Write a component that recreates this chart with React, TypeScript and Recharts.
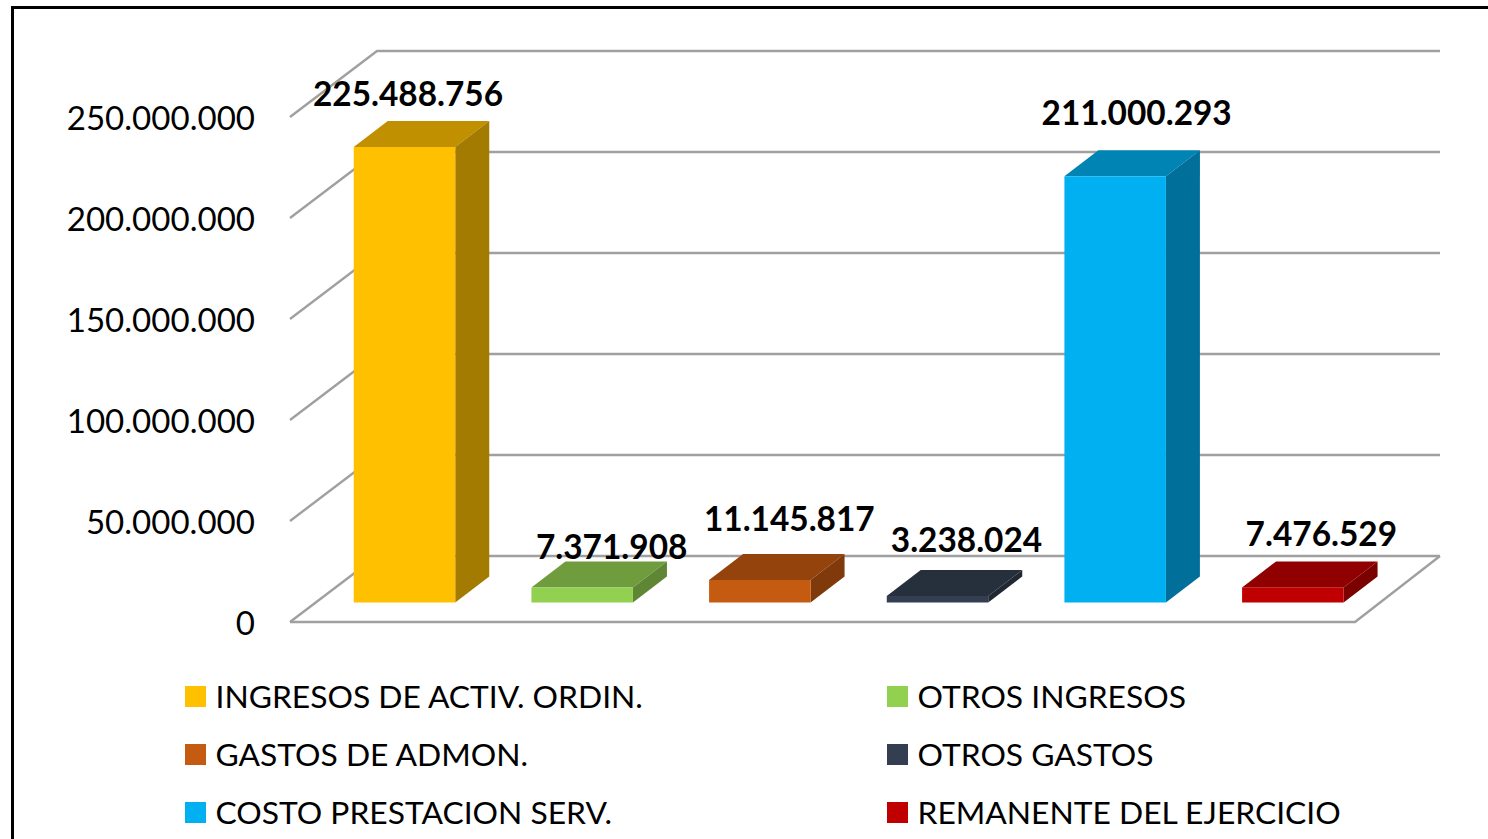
import { BarChart, Bar, XAxis, YAxis, CartesianGrid, Legend, LabelList } from "recharts";

const categories = [
  "INGRESOS DE ACTIV. ORDIN.",
  "OTROS INGRESOS",
  "GASTOS DE ADMON.",
  "OTROS GASTOS",
  "COSTO PRESTACION SERV.",
  "REMANENTE DEL EJERCICIO",
];
const values = [225488756, 7371908, 11145817, 3238024, 211000293, 7476529];
const yTicks = [0, 50000000, 100000000, 150000000, 200000000, 250000000];

const frontColors = ["#FFC000", "#92D050", "#C55A11", "#333F50", "#00B0F0", "#C00000"];
const topColors = ["#C09000", "#6F9C3D", "#95430D", "#262F3C", "#0084B4", "#900000"];
const sideColors = ["#A37B00", "#5F8634", "#7F390B", "#202833", "#00709A", "#7B0000"];

// label placement relative to the front-top corner of each bar, as in the original
const labelShiftX = [3.5, 29.5, 29.5, 29, 21.5, 28.5];
const labelShiftY = [-54.5, -41.5, -61.5, -57, -64.5, -54];

const FONT = "Lato, Carlito, sans-serif";
const GRID_COLOR = "#A0A0A0";
const DEPTH_X = 34;
const DEPTH_Y = 26;

const data = categories.map((name, i) => ({ name, [name]: values[i] }));

const fmt = (v: number) => v.toLocaleString("de-DE");

const Bar3D = (props: any) => {
  const { x, y, width, height, idx } = props;
  if (!height || height <= 0) return null;
  const r = x + width;
  const b = y + height;
  return (
    <g>
      <path
        d={`M${x},${y} L${x + DEPTH_X},${y - DEPTH_Y} L${r + DEPTH_X},${y - DEPTH_Y} L${r},${y} Z`}
        fill={topColors[idx]}
      />
      <path
        d={`M${r},${y} L${r + DEPTH_X},${y - DEPTH_Y} L${r + DEPTH_X},${b - DEPTH_Y} L${r},${b} Z`}
        fill={sideColors[idx]}
      />
      <rect x={x} y={y} width={width} height={height} fill={frontColors[idx]} />
    </g>
  );
};

const WallLine = (props: any) => {
  const y = props.y1;
  const isFloor = Math.abs(y - 602.5) < 1;
  return (
    <g key={props.key} stroke={GRID_COLOR} strokeWidth={2.4} fill="none">
      <path d={`M290,${y + 19.5} L377,${y - 46.5} L1440,${y - 46.5}`} />
      {isFloor && <path d={`M290,${y + 19.5} L1355,${y + 19.5} L1440,${y - 46.5}`} />}
    </g>
  );
};

const YTick = ({ y, payload }: any) => (
  <text
    x={255}
    y={y + 19}
    textAnchor="end"
    dominantBaseline="central"
    fontFamily={FONT}
    fontSize={33.1}
    fill="#000"
  >
    {fmt(payload.value)}
  </text>
);

const BarLabel = ({ x, y, width, value, idx }: any) => {
  if (value == null) return null;
  return (
    <text
      x={x + width / 2 + labelShiftX[idx]}
      y={y + labelShiftY[idx]}
      textAnchor="middle"
      dominantBaseline="central"
      fontFamily={FONT}
      fontWeight={700}
      fontSize={33.4}
      fill="#000"
    >
      {fmt(value)}
    </text>
  );
};

const LegendBox = ({ payload }: any) => (
  <div style={{ position: "relative", height: 0, fontFamily: FONT, fontSize: 31.8, color: "#000" }}>
    {(payload || []).map((item: any, i: number) => (
      <div
        key={item.value}
        style={{
          position: "absolute",
          left: i % 2 === 0 ? 185 : 887,
          top: 667 + Math.floor(i / 2) * 58,
          height: 58,
          display: "flex",
          alignItems: "center",
          whiteSpace: "nowrap",
        }}
      >
        <span style={{ width: 21, height: 21, background: item.color, marginRight: 9.5 }} />
        {item.value}
      </div>
    ))}
  </div>
);

export default function App() {
  return (
    <div style={{ position: "absolute", left: 0, top: 0, width: 1488, height: 839, overflow: "hidden", background: "#fff" }}>
      <div
        style={{
          position: "absolute",
          left: 11,
          top: 6,
          right: 0,
          bottom: 0,
          borderTop: "3px solid #000",
          borderLeft: "3px solid #000",
        }}
      />
      <BarChart
        width={1488}
        height={839}
        data={data}
        barCategoryGap={0}
        margin={{ top: 97.5, right: 106.25, bottom: 236.5, left: 0 }}
        style={{ position: "absolute", left: 0, top: 0 }}
      >
        <CartesianGrid vertical={false} horizontal={(p: any) => <WallLine {...p} />} />
        <XAxis dataKey="name" hide />
        <YAxis
          width={315.75}
          domain={[0, 250000000]}
          ticks={yTicks}
          interval={0}
          axisLine={false}
          tickLine={false}
          tick={<YTick />}
        />
        <Legend
          verticalAlign="top"
          itemSorter={null}
          content={<LegendBox />}
          wrapperStyle={{ left: 0, top: 0, width: 1488, height: 0 }}
        />
        {categories.map((name, i) => (
          <Bar
            key={name}
            dataKey={name}
            name={name}
            stackId="a"
            barSize={101.5}
            fill={frontColors[i]}
            isAnimationActive={false}
            shape={(p: any) => <Bar3D {...p} idx={i} />}
          >
            <LabelList dataKey={name} content={(p: any) => <BarLabel {...p} idx={i} />} />
          </Bar>
        ))}
      </BarChart>
    </div>
  );
}
